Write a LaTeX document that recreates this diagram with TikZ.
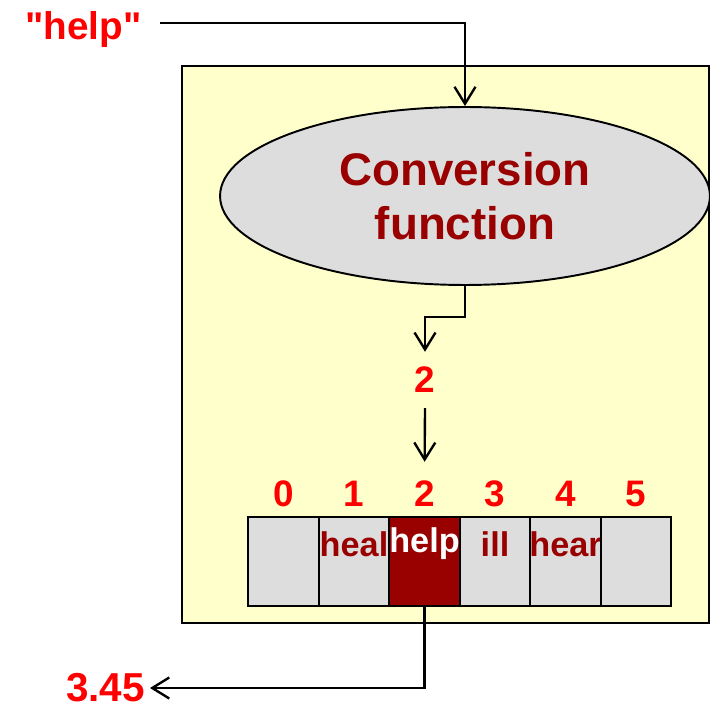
\documentclass[tikz,border=0pt]{standalone}
\usepackage{fontspec}
\setmainfont{Liberation Sans}
\newfontfamily\keyfont{Liberation Sans}
\usetikzlibrary{arrows.meta,shapes.geometric,positioning}
\definecolor{boxyellow}{HTML}{FFFFCC}
\definecolor{cellgray}{HTML}{DDDDDD}
\definecolor{darkred}{HTML}{990000}
\tikzset{
  arr/.style={line width=1.35pt,-{Straight Barb[length=0.34cm,width=0.42cm]}},
  redlbl/.style={text=red,font=\bfseries\fontsize{21}{25}\selectfont,inner sep=0pt},
  cell/.style={draw,line width=1.1pt,fill=cellgray,minimum width=1.41cm,minimum height=1.78cm,inner sep=0pt},
  celltext/.style={text=darkred,font=\bfseries\fontsize{19.5}{22}\selectfont,inner sep=0pt}
}

\begin{document}
\begin{tikzpicture}[x=0.02cm,y=-0.02cm]
  \useasboundingbox (0,0) rectangle (710,709);
  % the hash table box
  \draw[line width=1.1pt,fill=boxyellow] (182,66) rectangle (709,623);
  % conversion function
  \node[ellipse,draw,line width=1.1pt,fill=cellgray,minimum width=9.8cm,minimum height=3.56cm,
        text=darkred,align=center,font=\bfseries\fontsize{26}{31}\selectfont] (conv) at (465,196)
        {Conversion\\function};
  % key and computed index
  \node[redlbl,font=\keyfont\bfseries\fontsize{22}{26}\selectfont,anchor=east] (hw) at (142,30) {"help"};
  \node[redlbl,inner ysep=0.3cm] (two) at (425,380) {2};
  \draw[arr] ([xshift=0.36cm,yshift=0.14cm]hw.east) -| (conv.north);
  \draw[arr] (conv.south) -- ++(0,31) -| (two.north);
  % array slots
  \foreach \i/\txt in {0/,1/heal,2/help,3/ill,4/hear,5/} {
    \node[cell] (c\i) at (283.5+70.5*\i,561.5) {};
    \node[celltext] (t\i) at ([yshift=-0.56cm]c\i.north) {\txt};
    \node[redlbl] (i\i) at (283.5+70.5*\i,494) {\i};
  }
  \node[cell,fill=darkred] at (c2) {};
  \node[celltext,text=white] at (t2) {help};
  \draw[arr,shorten >=0.38cm] (two.south) -- (i2.north);
  % stored value
  \node[redlbl,font=\bfseries\fontsize{23}{27}\selectfont,anchor=east] (val) at (145,688) {3.45};
  \draw[arr,shorten >=0.1cm] (c2.south) |- (val.east);
\end{tikzpicture}
\end{document}
